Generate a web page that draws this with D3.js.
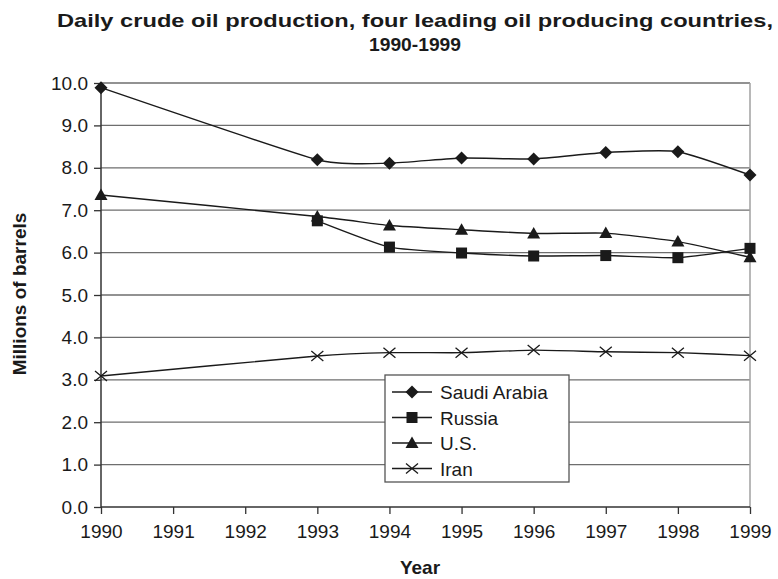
<!DOCTYPE html>
<html>
<head>
<meta charset="utf-8">
<script src="https://cdn.jsdelivr.net/npm/d3@7"></script>
<style>
  body { margin: 0; background: #fff; }
  text { font-family: "Liberation Sans", Arial, sans-serif; fill: #1a1a1a; }
</style>
</head>
<body>
<div id="vis"></div>
<script>
// chart values
var years = ["1990", "1991", "1992", "1993", "1994", "1995", "1996", "1997", "1998", "1999"];
var yTicks = [0, 1, 2, 3, 4, 5, 6, 7, 8, 9, 10];
var saudi  = [9.89, null, null, 8.19, 8.11, 8.23, 8.21, 8.36, 8.38, 7.83];
var russia = [null, null, null, 6.75, 6.13, 5.99, 5.92, 5.93, 5.88, 6.10];
var us     = [7.36, null, null, 6.85, 6.64, 6.54, 6.45, 6.46, 6.26, 5.89];
var iran   = [3.09, null, null, 3.56, 3.64, 3.64, 3.70, 3.66, 3.64, 3.57];
var seriesNames = ["Saudi Arabia", "Russia", "U.S.", "Iran"];
var seriesValues = [saudi, russia, us, iran];
var seriesMarks = ["diamond", "square", "triangle", "cross"];

var width = 778, height = 579;
var margin = {top: 83, right: 28, bottom: 72, left: 101};

var svg = d3.select("#vis").append("svg")
  .attr("width", width)
  .attr("height", height);

var x = d3.scalePoint()
  .domain(years)
  .range([margin.left, width - margin.right]);

var y = d3.scaleLinear()
  .domain([0, 10])
  .range([height - margin.bottom, margin.top]);

// title
svg.append("text")
  .attr("x", 415).attr("y", 27)
  .attr("text-anchor", "middle")
  .attr("font-size", 19).attr("font-weight", "bold")
  .attr("textLength", 716).attr("lengthAdjust", "spacingAndGlyphs")
  .text("Daily crude oil production, four leading oil producing countries,");
svg.append("text")
  .attr("x", 415).attr("y", 51)
  .attr("text-anchor", "middle")
  .attr("font-size", 19).attr("font-weight", "bold")
  .attr("textLength", 92).attr("lengthAdjust", "spacingAndGlyphs")
  .text("1990-1999");

// gridlines
svg.append("g")
  .selectAll("line")
  .data(yTicks.filter(function(d) { return d > 0; }))
  .enter().append("line")
  .attr("x1", margin.left).attr("x2", width - margin.right)
  .attr("y1", function(d) { return y(d); })
  .attr("y2", function(d) { return y(d); })
  .style("stroke", "#6e6e6e")
  .style("stroke-width", 1.3);

// right border
svg.append("line")
  .attr("x1", width - margin.right).attr("x2", width - margin.right)
  .attr("y1", y(10)).attr("y2", y(0))
  .style("stroke", "#a0a0a0").style("stroke-width", 1.5);

// axes
var yAxis = svg.append("g")
  .attr("transform", "translate(" + margin.left + ",0)")
  .call(d3.axisLeft(y).tickValues(yTicks).tickSize(7).tickPadding(6).tickFormat(d3.format(".1f")));

var xAxis = svg.append("g")
  .attr("transform", "translate(0," + (height - margin.bottom) + ")")
  .call(d3.axisBottom(x).tickSize(7).tickPadding(11));

[yAxis, xAxis].forEach(function(ax) {
  ax.select(".domain").style("stroke", "#333").style("stroke-width", 1.5);
  ax.selectAll(".tick line").style("stroke", "#333").style("stroke-width", 1.3);
  ax.selectAll(".tick text")
    .style("font-family", "'Liberation Sans', Arial, sans-serif")
    .style("font-size", "19px")
    .style("fill", "#1a1a1a");
});
yAxis.select(".domain").attr("d", "M0," + y(0) + "V" + y(10));
xAxis.select(".domain").attr("d", "M" + margin.left + ",0H" + (width - margin.right));

// axis titles
svg.append("text")
  .attr("transform", "translate(26,294) rotate(-90)")
  .attr("text-anchor", "middle")
  .attr("font-size", 19).attr("font-weight", "bold")
  .text("Millions of barrels");
svg.append("text")
  .attr("x", 420).attr("y", 574)
  .attr("text-anchor", "middle")
  .attr("font-size", 19).attr("font-weight", "bold")
  .text("Year");

// markers
function drawMark(g, type) {
  if (type === "diamond") {
    g.append("path").attr("d", "M0,-6.5L6.5,0L0,6.5L-6.5,0Z").style("fill", "#1a1a1a");
  } else if (type === "square") {
    g.append("rect").attr("x", -5.5).attr("y", -5.5).attr("width", 11).attr("height", 11).style("fill", "#1a1a1a");
  } else if (type === "triangle") {
    g.append("path").attr("d", "M0,-6.5L6.5,5L-6.5,5Z").style("fill", "#1a1a1a");
  } else {
    g.append("path").attr("d", "M-6,-5L6,5M-6,5L6,-5")
      .style("stroke", "#1a1a1a").style("stroke-width", 1.3).style("fill", "none");
  }
}

// smoothed lines, a bit less loose than a plain spline
var line = d3.line()
  .x(function(d) { return x(d.year); })
  .y(function(d) { return y(d.value); })
  .curve(d3.curveCardinal.tension(0.5));

seriesValues.forEach(function(vals, i) {
  var pts = [];
  vals.forEach(function(v, j) { if (v != null) pts.push({year: years[j], value: v}); });

  svg.append("path")
    .datum(pts)
    .attr("d", line)
    .style("fill", "none")
    .style("stroke", "#1a1a1a")
    .style("stroke-width", 1.4);

  svg.append("g").selectAll("g")
    .data(pts)
    .enter().append("g")
    .attr("transform", function(d) { return "translate(" + x(d.year) + "," + y(d.value) + ")"; })
    .each(function() { drawMark(d3.select(this), seriesMarks[i]); });
});

// legend
var legend = svg.append("g").attr("transform", "translate(385,375)");
legend.append("rect")
  .attr("width", 184).attr("height", 107)
  .style("fill", "#fff").style("stroke", "#555").style("stroke-width", 1.3);

var item = legend.selectAll(".item")
  .data(seriesNames)
  .enter().append("g")
  .attr("class", "item")
  .attr("transform", function(d, i) { return "translate(0," + (17 + i * 25.5) + ")"; });

item.append("line")
  .attr("x1", 7).attr("x2", 47)
  .style("stroke", "#1a1a1a").style("stroke-width", 1.4);
item.each(function(d, i) {
  drawMark(d3.select(this).append("g").attr("transform", "translate(27,0)"), seriesMarks[i]);
});
item.append("text")
  .attr("x", 55).attr("y", 7)
  .attr("font-size", 19)
  .text(function(d) { return d; });
</script>
</body>
</html>
